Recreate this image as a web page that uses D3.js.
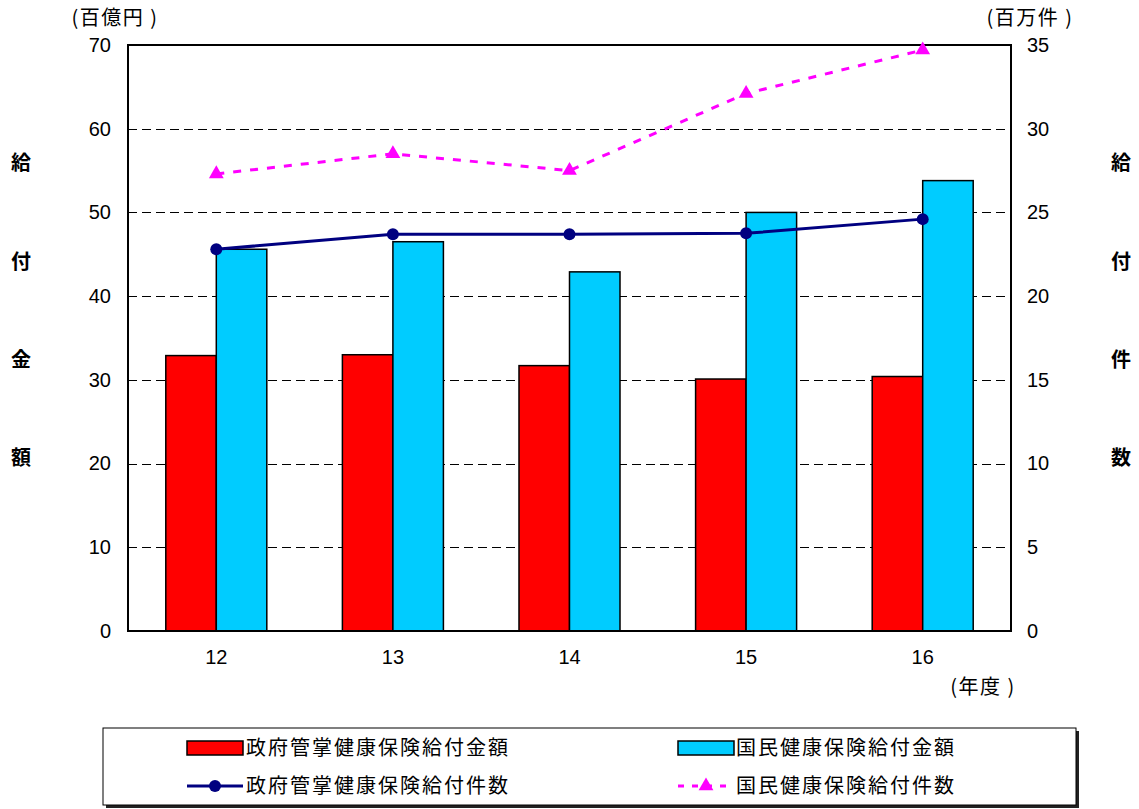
<!DOCTYPE html>
<html>
<head>
<meta charset="utf-8">
<script src="https://cdn.jsdelivr.net/npm/d3@7"></script>
<style>
  html, body { margin: 0; padding: 0; background: #fff; }
  svg { display: block; }
  text { font-family: "Liberation Sans", Arial, sans-serif; fill: #000; }
  .jp { font-family: "Noto Sans CJK JP", sans-serif; }
</style>
</head>
<body>
<script>
// Fiscal years (平成)
const years = ["12", "13", "14", "15", "16"];
// Benefit amounts (百億円)
const govAmount = [32.9, 33.0, 31.7, 30.1, 30.4];
const natAmount = [45.6, 46.5, 42.9, 50.0, 53.8];
// Benefit counts (百万件)
const govCount = [22.8, 23.7, 23.7, 23.75, 24.6];
const natCount = [27.3, 28.5, 27.5, 32.1, 34.7];
// Axis ticks
const leftTicks = [0, 10, 20, 30, 40, 50, 60, 70];
const rightTicks = [0, 5, 10, 15, 20, 25, 30, 35];

const seriesNames = {
  govAmount: "政府管掌健康保険給付金額",
  natAmount: "国民健康保険給付金額",
  govCount: "政府管掌健康保険給付件数",
  natCount: "国民健康保険給付件数"
};

const W = 1139, H = 809;
const plot = { left: 128, right: 1011, top: 45, bottom: 631 };
const tickFont = 20;

const svg = d3.select("body").append("svg").attr("width", W).attr("height", H);

const x = d3.scaleBand().domain(years).range([plot.left, plot.right]).paddingInner(0.428).paddingOuter(0.214);
const xSub = d3.scaleBand().domain(["gov", "nat"]).range([0, x.bandwidth()]);
const yL = d3.scaleLinear().domain([0, 70]).range([plot.bottom, plot.top]);
const yR = d3.scaleLinear().domain([0, 35]).range([plot.bottom, plot.top]);

// dashed gridlines
svg.append("g").selectAll("line").data(leftTicks.filter(d => d > 0 && d < 70)).join("line")
  .attr("x1", plot.left).attr("x2", plot.right)
  .attr("y1", d => Math.round(yL(d)) + 0.5).attr("y2", d => Math.round(yL(d)) + 0.5)
  .attr("stroke", "#000").attr("stroke-width", 1).attr("stroke-dasharray", "9,5");

// bars
const bars = svg.append("g");
years.forEach((yr, i) => {
  const x0 = x(yr);
  bars.append("rect")
    .attr("x", x0 + xSub("gov")).attr("width", xSub.bandwidth())
    .attr("y", yL(govAmount[i])).attr("height", yL(0) - yL(govAmount[i]))
    .attr("fill", "#FF0000").attr("stroke", "#000").attr("stroke-width", 1.5);
  bars.append("rect")
    .attr("x", x0 + xSub("nat")).attr("width", xSub.bandwidth())
    .attr("y", yL(natAmount[i])).attr("height", yL(0) - yL(natAmount[i]))
    .attr("fill", "#00CCFF").attr("stroke", "#000").attr("stroke-width", 1.5);
});

// plot frame
svg.append("rect")
  .attr("x", plot.left).attr("y", plot.top)
  .attr("width", plot.right - plot.left).attr("height", plot.bottom - plot.top)
  .attr("fill", "none").attr("stroke", "#000").attr("stroke-width", 2);

const cx = d => x(d) + x.bandwidth() / 2;

// lines
const line = d3.line().x((d, i) => cx(years[i])).y(d => yR(d));
svg.append("path").attr("d", line(govCount))
  .attr("fill", "none").attr("stroke", "#000080").attr("stroke-width", 3);
svg.append("g").selectAll("circle").data(govCount).join("circle")
  .attr("cx", (d, i) => cx(years[i])).attr("cy", d => yR(d)).attr("r", 6)
  .attr("fill", "#000080");

svg.append("path").attr("d", line(natCount))
  .attr("fill", "none").attr("stroke", "#FF00FF").attr("stroke-width", 3)
  .attr("stroke-dasharray", "8,9");
const tri = d3.symbol().type(d3.symbolTriangle).size(95);
svg.append("g").selectAll("path").data(natCount).join("path")
  .attr("d", tri)
  .attr("transform", (d, i) => `translate(${cx(years[i])},${yR(d)})`)
  .attr("fill", "#FF00FF");

// axes
const styleTicks = g => g.selectAll("text")
  .attr("font-size", tickFont).attr("font-family", "Liberation Sans, Arial, sans-serif");

svg.append("g").attr("transform", `translate(${plot.left},0)`)
  .call(d3.axisLeft(yL).tickValues(leftTicks).tickSize(0).tickPadding(17))
  .call(g => g.select(".domain").remove()).call(styleTicks);

svg.append("g").attr("transform", `translate(${plot.right},0)`)
  .call(d3.axisRight(yR).tickValues(rightTicks).tickSize(0).tickPadding(16))
  .call(g => g.select(".domain").remove()).call(styleTicks);

svg.append("g").attr("transform", `translate(0,${plot.bottom})`)
  .call(d3.axisBottom(x).tickSize(0).tickPadding(19))
  .call(g => g.select(".domain").remove()).call(styleTicks);

// unit labels
const unitLabels = [["(百億円 )", 115, 25], ["(百万件 )", 1030, 25], ["(年度 )", 983, 694]];
svg.append("g").selectAll("text").data(unitLabels).join("text").attr("class", "jp")
  .attr("x", d => d[1]).attr("y", d => d[2]).attr("text-anchor", "middle")
  .attr("font-size", 20).attr("letter-spacing", 1.5).text(d => d[0]);

// vertical side titles
const sideL = ["給", "付", "金", "額"];
const sideR = ["給", "付", "件", "数"];
const sideY = [163, 262, 360, 458];
svg.append("g").selectAll("text").data(sideL).join("text").attr("class", "jp")
  .attr("x", 21).attr("y", (d, i) => sideY[i] + 7).attr("text-anchor", "middle")
  .attr("font-size", 20).attr("font-weight", "bold").text(d => d);
svg.append("g").selectAll("text").data(sideR).join("text").attr("class", "jp")
  .attr("x", 1121).attr("y", (d, i) => sideY[i] + 7).attr("text-anchor", "middle")
  .attr("font-size", 20).attr("font-weight", "bold").text(d => d);

// legend
const lg = svg.append("g");
lg.append("rect").attr("x", 106).attr("y", 731).attr("width", 973).attr("height", 77).attr("fill", "#222");
lg.append("rect").attr("x", 103).attr("y", 728).attr("width", 973).attr("height", 77)
  .attr("fill", "#fff").attr("stroke", "#000").attr("stroke-width", 1);

const row1 = 748, row2 = 786;
lg.append("rect").attr("x", 187).attr("y", row1 - 7).attr("width", 56).attr("height", 14)
  .attr("fill", "#FF0000").attr("stroke", "#000").attr("stroke-width", 1.5);
lg.append("rect").attr("x", 678).attr("y", row1 - 7).attr("width", 56).attr("height", 14)
  .attr("fill", "#00CCFF").attr("stroke", "#000").attr("stroke-width", 1.5);
lg.append("line").attr("x1", 187).attr("x2", 243).attr("y1", row2).attr("y2", row2)
  .attr("stroke", "#000080").attr("stroke-width", 3);
lg.append("circle").attr("cx", 215).attr("cy", row2).attr("r", 6).attr("fill", "#000080");
lg.append("line").attr("x1", 678).attr("x2", 734).attr("y1", row2).attr("y2", row2)
  .attr("stroke", "#FF00FF").attr("stroke-width", 3).attr("stroke-dasharray", "6,8");
lg.append("path").attr("d", tri).attr("transform", `translate(706,${row2})`).attr("fill", "#FF00FF");

const legendText = [
  [seriesNames.govAmount, 246, row1], [seriesNames.natAmount, 736, row1],
  [seriesNames.govCount, 246, row2], [seriesNames.natCount, 736, row2]
];
lg.selectAll("text.lt").data(legendText).join("text").attr("class", "jp lt")
  .attr("x", d => d[1]).attr("y", d => d[2] + 7).attr("font-size", 20)
  .attr("letter-spacing", 2).text(d => d[0]);
</script>
</body>
</html>
